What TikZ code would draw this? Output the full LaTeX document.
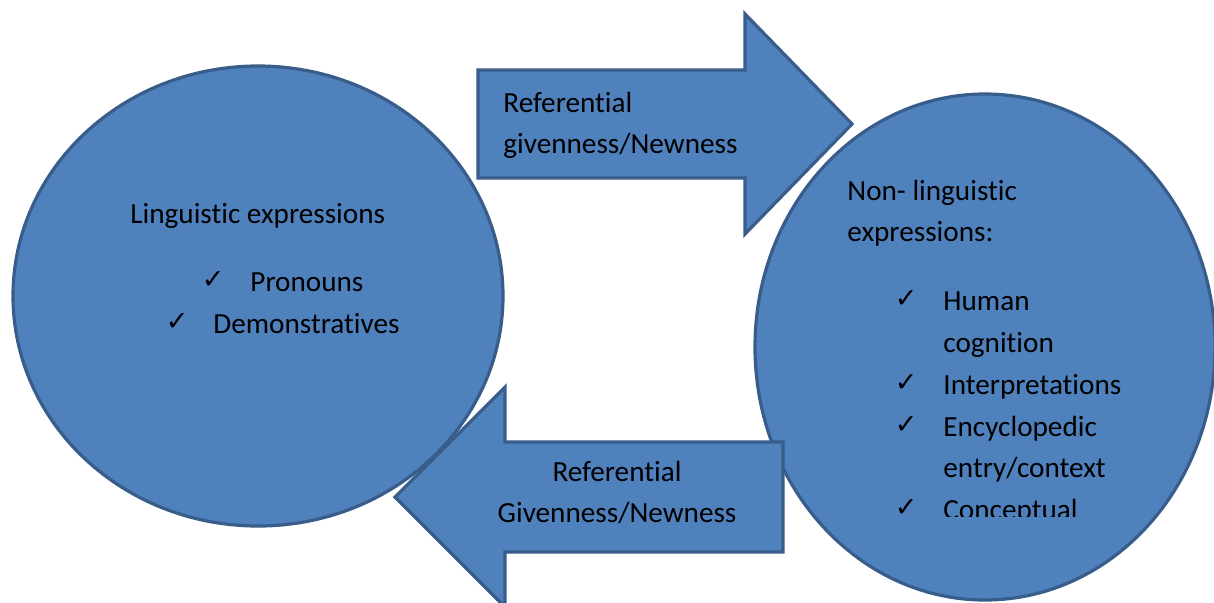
\documentclass[tikz,border=0pt]{standalone}
\usepackage{fontspec}
\setmainfont[Ligatures={NoCommon,NoRare,NoContextual},Contextuals={NoAlternate}]{Carlito}
\newfontfamily\simbolos{DejaVu Sans}
\usepackage{tikz}
\usetikzlibrary{shapes.geometric,positioning}
\definecolor{azulfondo}{RGB}{79,129,189}
\definecolor{azulborde}{RGB}{56,93,138}

\begin{document}
\begin{tikzpicture}[x=0.5pt,y=-0.5pt,
burbuja/.style={ellipse,draw=azulborde,fill=azulfondo,line width=1.6pt,inner sep=0pt},
bloque/.style={draw=azulborde,fill=azulfondo,line width=1.6pt,line join=miter},
txt/.style={font=\fontsize{14.6}{20.5}\selectfont,inner sep=0pt,text height=14.5pt,text depth=6pt},
chk/.style={font=\simbolos\fontsize{13.5}{14}\selectfont,inner sep=0pt}
]
\useasboundingbox (0,0) rectangle (1214,602);
\fill[white] (0,0) rectangle (1214,602);

\node[burbuja,minimum width=245pt,minimum height=230pt] (ling) at (258,296) {};
\node[burbuja,minimum width=230pt,minimum height=253pt] (nonling) at (985,347) {};

% flechas de bloque
\coordinate (colaA) at (478,124);
\coordinate (colaB) at (783,497);
\draw[bloque] (colaA) ++(0,-54) -- ++(267,0) -- ++(0,-56) -- ++(107,110) -- ++(-107,110) -- ++(0,-56) -- ++(-267,0) -- cycle;
\draw[bloque] (colaB) ++(0,-55) -- ++(-278,0) -- ++(0,-55) -- ++(-110,110) -- ++(110,110) -- ++(0,-55) -- ++(278,0) -- cycle;

\node[txt,anchor=base west] (refA) at (503,112) {Referential};
\node[txt,below=0pt of refA.south west,anchor=north west] (givA) {givenness/Newness};
\node[txt,anchor=base] (refB) at (617,481) {Referential};
\node[txt,below=0pt of refB] (givB) {Givenness/Newness};

% circulo izquierdo
\node[txt,anchor=base west] (lingtit) at (130,223) {Linguistic expressions};
\node[txt,below=13.5pt of lingtit.south west,anchor=north west,xshift=60pt] (pron) {Pronouns};
\node[txt,below=0pt of pron.south west,anchor=north west,xshift=-18.5pt] (demo) {Demonstratives};
\node[chk,left=12.5pt of pron.base west,anchor=base east,yshift=1.5pt] (chkpron) {✓};
\node[chk,left=12pt of demo.base west,anchor=base east,yshift=1.5pt] (chkdemo) {✓};

% circulo derecho
\begin{scope}
\clip (830,150) rectangle (1214,516);
\node[txt,anchor=base west] (nontit) at (847,200) {Non- linguistic};
\node[txt,below=0pt of nontit.south west,anchor=north west] (nontit2) {expressions:};
\node[txt,below=13.5pt of nontit2.south west,anchor=north west,xshift=48pt] (hum) {Human};
\node[txt,below=0pt of hum.south west,anchor=north west] (cog) {cognition};
\node[txt,below=0pt of cog.south west,anchor=north west] (interp) {Interpretations};
\node[txt,below=0pt of interp.south west,anchor=north west] (enc) {Encyclopedic};
\node[txt,below=0pt of enc.south west,anchor=north west] (entry) {entry/context};
\node[txt,below=0pt of entry.south west,anchor=north west] (concep) {Conceptual};
\node[chk,left=12.5pt of hum.base west,anchor=base east,yshift=1.5pt] (chkhum) {✓};
\node[chk,left=12.5pt of interp.base west,anchor=base east,yshift=1.5pt] (chkint) {✓};
\node[chk,left=12.5pt of enc.base west,anchor=base east,yshift=1.5pt] (chkenc) {✓};
\node[chk,left=12.5pt of concep.base west,anchor=base east,yshift=1.5pt] (chkcon) {✓};
\end{scope}
\end{tikzpicture}
\end{document}
